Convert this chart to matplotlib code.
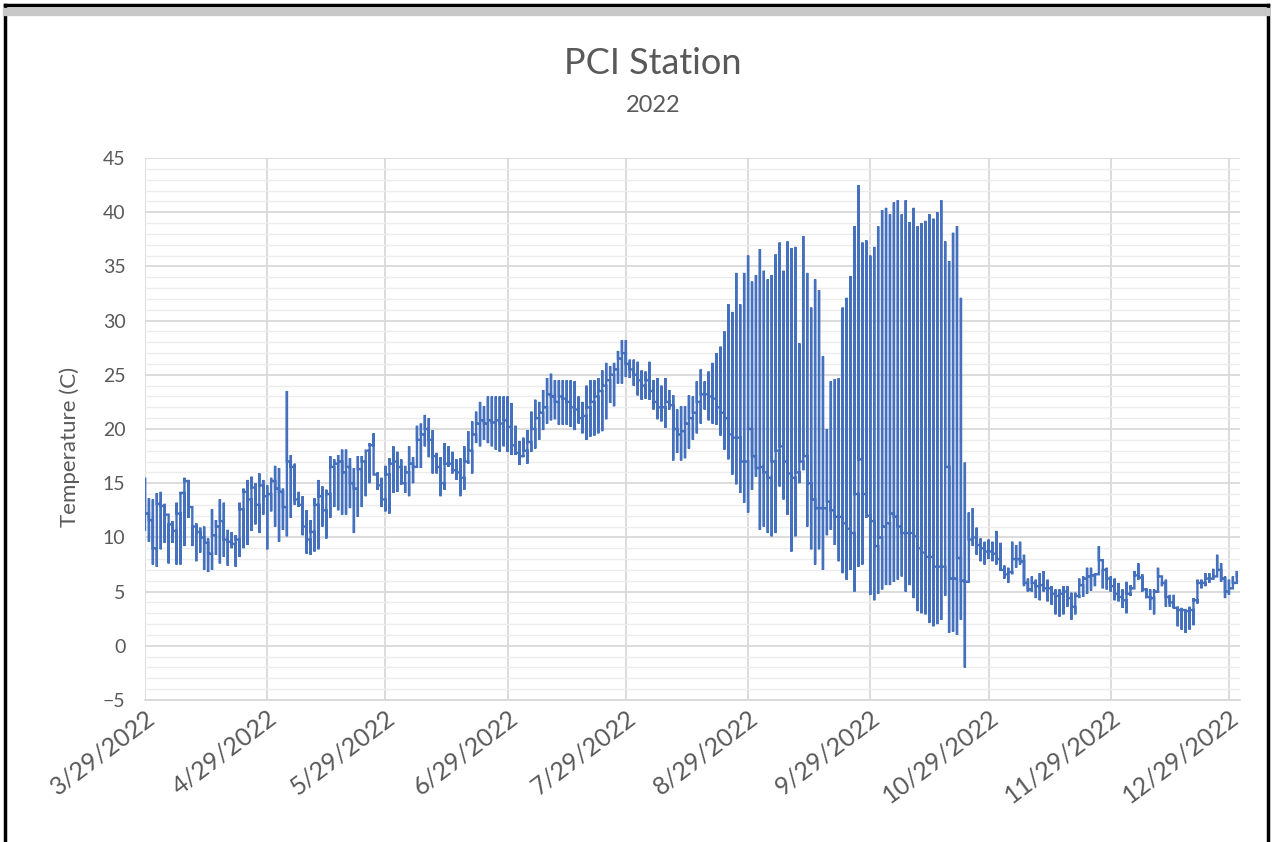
import datetime
import matplotlib
matplotlib.use("Agg")
import matplotlib.pyplot as plt
import matplotlib.dates as mdates
from matplotlib.ticker import MultipleLocator, FuncFormatter
from matplotlib.lines import Line2D

plt.rcParams['font.family'] = ['Lato', 'DejaVu Sans']

# Temperaturas diarias de la estacion PCI, un valor por dia desde el 29/3/2022.
# t_max / t_min: maxima y minima del dia.
# t_noche: valor a medianoche, donde un dia enlaza con el siguiente.

t_max = [15.5, 13.6, 13.5, 14.1, 14.2, 13.1, 12.1, 11.5, 13.2, 14.2,
         15.5, 15.3, 12.8, 11.3, 10.9, 11.0, 9.9, 12.6, 11.6, 13.5,
         13.2, 10.7, 10.5, 10.2, 13.2, 14.5, 15.3, 15.6, 15.0, 15.9,
         15.3, 14.8, 15.5, 16.6, 16.4, 14.5, 23.5, 17.6, 16.8, 14.2,
         13.8, 12.5, 11.6, 13.6, 15.3, 14.7, 14.4, 17.5, 17.2, 17.6,
         18.1, 18.1, 17.3, 16.4, 17.5, 17.5, 17.2, 18.7, 19.6, 16.0,
         15.5, 16.6, 17.3, 18.4, 17.9, 17.2, 16.6, 18.4,
         # junio - julio
         17.4, 20.3, 20.5, 21.3, 21.0, 19.9, 17.8, 17.4, 18.7, 18.4,
         17.9, 17.2, 17.3, 18.4, 19.8, 20.7, 21.6, 22.5, 22.1, 23.0,
         23.0, 23.0, 23.0, 23.0, 23.0, 22.4, 20.3, 18.9, 19.2, 19.9,
         21.6, 22.7, 22.5, 23.6, 24.7, 25.1, 24.5, 24.5, 24.5, 24.5,
         24.5, 24.4, 23.0, 22.5, 24.0, 24.5, 24.5, 24.7, 25.4, 26.1,
         25.8, 26.1, 27.2, 28.2, 28.2, 26.4, 26.4, 26.2, 25.4, 25.3,
         26.2, 24.5, 24.7, 24.0, 24.7, 23.6, 23.1, 21.8, 22.1, 22.1,
         23.1, 23.0, 24.4,
         # agosto - octubre
         25.5, 24.4, 25.3, 26.1, 27.0, 27.6, 29.0, 31.5, 30.8, 34.4,
         31.5, 34.4, 36.0, 33.6, 34.2, 36.6, 34.6, 33.8, 34.2, 36.1,
         37.2, 34.6, 37.3, 36.7, 36.8, 27.9, 37.8, 34.4, 31.2, 33.8,
         32.8, 26.7, 20.0, 24.4, 24.6, 24.7, 31.2, 32.1, 34.1, 38.7,
         42.5, 37.2, 37.4, 36.0, 36.8, 38.7, 40.2, 40.4, 39.8, 40.9,
         41.1, 39.8, 41.1, 39.1, 40.4, 38.7, 39.0, 39.2, 39.8, 39.4,
         40.0, 41.1, 37.3, 35.5, 38.1, 38.7, 32.1, 16.9, 12.3, 12.7,
         # noviembre - diciembre
         10.9, 9.9, 9.6, 9.8, 9.6, 10.6, 9.5, 7.4, 7.2, 9.6,
         9.3, 9.6, 8.4, 6.2, 6.4, 6.1, 6.7, 6.9, 6.1, 5.5,
         5.2, 5.2, 5.5, 5.5, 4.9, 4.9, 6.2, 6.4, 7.2, 7.2,
         6.6, 9.2, 7.9, 7.2, 6.4, 6.2, 5.8, 5.2, 5.9, 5.6,
         6.9, 7.6, 6.6, 5.3, 5.2, 5.2, 7.2, 6.4, 6.1, 4.7,
         4.7, 3.6, 3.5, 3.3, 3.6, 4.4, 6.1, 6.1, 6.7, 6.7,
         7.1, 8.4, 7.6, 6.4, 6.1, 6.4, 6.9]

t_min = [10.7, 9.6, 7.5, 7.3, 8.9, 9.5, 7.6, 9.5, 7.5, 7.5,
         9.2, 11.8, 9.2, 7.8, 8.6, 7.0, 6.8, 7.0, 8.4, 7.6,
         8.2, 7.4, 9.0, 7.3, 8.2, 9.0, 9.3, 10.6, 11.2, 10.4,
         12.1, 8.9, 12.4, 11.0, 9.6, 10.7, 10.1, 11.8, 13.0, 12.8,
         10.2, 8.5, 8.4, 8.7, 8.9, 11.0, 9.9, 11.8, 12.8, 12.5,
         12.1, 12.1, 12.7, 10.4, 11.9, 12.8, 13.8, 15.0, 15.9, 14.4,
         12.8, 12.4, 12.2, 14.1, 14.2, 14.9, 14.1, 13.8,
         # junio - julio
         15.0, 16.4, 16.4, 18.4, 17.4, 15.9, 15.9, 13.8, 14.4, 16.5,
         15.9, 15.3, 13.8, 14.4, 16.8, 15.9, 18.7, 18.4, 19.0, 18.7,
         18.4, 18.1, 17.9, 18.4, 17.9, 17.6, 17.6, 16.7, 17.4, 16.8,
         17.9, 18.2, 19.0, 19.9, 20.5, 20.8, 20.9, 20.4, 20.4, 20.4,
         20.2, 19.9, 20.5, 19.6, 19.0, 19.3, 19.4, 19.6, 19.8, 20.9,
         22.4, 22.1, 24.2, 24.2, 24.8, 24.7, 24.0, 23.1, 22.7, 22.8,
         22.7, 21.8, 20.9, 20.7, 20.1, 21.8, 17.1, 17.8, 17.1, 17.3,
         18.2, 19.0, 19.6,
         # agosto - octubre
         20.5, 21.8, 20.8, 20.5, 20.4, 19.4, 18.1, 17.2, 15.8, 14.9,
         14.1, 13.2, 12.3, 14.4, 15.6, 10.7, 11.0, 10.4, 10.1, 10.4,
         14.7, 13.5, 12.1, 8.7, 10.1, 15.0, 16.2, 11.0, 8.9, 7.5,
         8.9, 7.0, 10.2, 10.7, 9.3, 7.8, 6.7, 6.1, 7.0, 5.0,
         7.3, 7.5, 11.8, 4.7, 4.2, 4.8, 5.2, 5.6, 5.6, 5.9,
         6.1, 6.4, 5.0, 5.6, 4.4, 3.2, 3.0, 2.9, 2.1, 1.8,
         2.0, 2.4, 4.6, 1.2, 1.3, 1.0, 2.4, -2.0, 5.8, 9.2,
         # noviembre - diciembre
         8.4, 7.8, 7.5, 8.0, 7.8, 7.5, 7.0, 6.2, 5.8, 6.6,
         7.2, 7.5, 5.5, 5.0, 5.0, 4.4, 4.2, 5.0, 4.1, 3.8,
         2.9, 2.7, 2.9, 3.6, 2.4, 2.9, 4.4, 4.5, 4.8, 5.1,
         5.5, 6.6, 5.3, 5.2, 5.0, 4.2, 4.1, 3.5, 3.0, 4.6,
         5.3, 6.1, 5.0, 4.4, 3.3, 2.9, 4.9, 5.5, 3.6, 3.6,
         3.5, 1.8, 1.5, 1.2, 1.5, 1.9, 3.9, 5.3, 5.5, 5.8,
         6.1, 6.4, 5.9, 4.4, 4.7, 5.3, 5.9]

t_noche = [12.2, 11.6, 9.0, 13.1, 12.9, 12.1, 11.2, 10.6, 12.2, 14.1,
           15.2, 12.8, 11.0, 10.5, 10.0, 9.5, 8.5, 10.2, 11.0, 11.5,
           9.8, 9.6, 9.4, 9.8, 12.6, 14.2, 13.5, 14.6, 13.0, 14.8,
           13.8, 14.0, 15.2, 14.5, 14.2, 12.8, 17.0, 16.5, 13.5, 13.0,
           11.0, 9.8, 10.5, 13.0, 13.8, 12.5, 14.0, 16.5, 16.8, 17.0,
           16.0, 16.5, 15.0, 14.5, 16.3, 17.0, 18.0, 18.5, 15.8, 14.8,
           13.5, 15.8, 16.8, 17.0, 16.5, 15.0, 16.0, 16.8,
           # junio - julio
           16.5, 19.0, 19.5, 20.0, 19.0, 17.5, 16.5, 15.0, 16.8, 16.8,
           16.2, 16.0, 15.5, 17.0, 18.0, 19.5, 20.5, 20.8, 20.5, 20.8,
           20.6, 20.8, 20.5, 20.8, 20.2, 18.5, 17.8, 17.5, 18.0, 18.8,
           20.0, 21.0, 21.5, 22.0, 23.2, 23.0, 22.5, 23.0, 22.8, 22.5,
           22.0, 21.8, 21.0, 21.2, 22.0, 22.5, 23.0, 23.5, 24.0, 24.5,
           25.0, 25.5, 26.5, 27.0, 26.0, 25.5, 25.0, 24.5, 24.0, 24.5,
           23.5, 22.5, 22.0, 22.0, 22.5, 22.2, 20.0, 19.5, 19.8, 20.5,
           21.0, 21.5, 22.5,
           # agosto - octubre
           23.2, 23.2, 23.0, 22.8, 22.0, 21.5, 21.0, 19.5, 19.2, 19.2,
           17.0, 17.0, 20.0, 17.5, 16.4, 16.5, 16.0, 15.5, 17.0, 18.0,
           18.4, 17.0, 15.9, 15.5, 16.0, 17.0, 17.5, 15.0, 13.5, 12.7,
           12.7, 12.7, 13.3, 12.5, 11.9, 11.9, 11.3, 10.8, 10.4, 14.0,
           17.2, 14.0, 12.0, 11.5, 9.2, 10.0, 11.0, 11.3, 12.2, 11.9,
           11.0, 10.4, 10.4, 10.4, 10.1, 9.0, 8.6, 8.2, 8.2, 7.3,
           7.3, 7.3, 16.5, 6.2, 6.2, 8.1, 6.0, 5.9, 9.8, 10.0,
           # noviembre - diciembre
           9.3, 9.0, 8.7, 8.7, 8.5, 8.0, 7.0, 6.6, 6.8, 8.0,
           8.0, 7.8, 5.8, 5.2, 5.8, 5.5, 5.6, 5.3, 5.3, 4.8,
           4.6, 4.8, 5.0, 4.4, 3.6, 4.6, 5.6, 6.2, 6.4, 6.5,
           6.6, 7.9, 7.0, 6.2, 5.5, 4.8, 4.5, 4.2, 4.8, 5.3,
           6.5, 6.3, 5.2, 4.5, 4.4, 5.0, 6.4, 5.8, 4.5, 4.0,
           3.5, 3.3, 3.3, 3.2, 3.3, 4.2, 5.8, 5.8, 6.2, 6.2,
           6.4, 7.0, 6.2, 5.0, 5.3, 5.8, 6.4]

inicio = datetime.date(2022, 3, 29)
meses_ticks = [3, 4, 5, 6, 7, 8, 9, 10, 11, 12]

titulo = "PCI Station"
subtitulo = "2022"
etiqueta_y = "Temperature (C)"

azul = "#4470bd"
gris_texto = "#595959"

# Cada dia es una linea vertical de la minima a la maxima,
# y se enlaza con el siguiente dia por el valor de medianoche.
dias = [mdates.date2num(inicio + datetime.timedelta(days=i)) for i in range(len(t_max))]
xs = []
ys = []
for i in range(len(dias)):
    if i > 0:
        xs.append(dias[i])
        ys.append(t_noche[i - 1])
    xs += [dias[i], dias[i], dias[i]]
    ys += [t_min[i], t_max[i], t_noche[i]]

fig = plt.figure(figsize=(12.73, 8.42), dpi=100)
ax = fig.add_axes([145 / 1273, 1 - 700 / 842, 1095 / 1273, 542 / 842])

ax.plot(xs, ys, color=azul, linewidth=1.7, solid_joinstyle="miter", zorder=3)

ax.set_ylim(-5, 45)
ax.yaxis.set_major_locator(MultipleLocator(5))
ax.yaxis.set_minor_locator(MultipleLocator(1))

x0 = mdates.date2num(inicio)
ax.set_xlim(x0, x0 + 277.8)
ticks_x = [mdates.date2num(datetime.date(2022, m, 29)) for m in meses_ticks]
ax.set_xticks(ticks_x)
ax.xaxis.set_major_formatter(FuncFormatter(
    lambda v, p: "%d/%d/%d" % (mdates.num2date(v).month, mdates.num2date(v).day, mdates.num2date(v).year)))

ax.grid(which="major", axis="both", color="#d9d9d9", linewidth=1.3, zorder=0)
ax.grid(which="minor", axis="y", color="#ececec", linewidth=1.0, zorder=0)
ax.set_axisbelow(True)

for lado in ["top", "right", "left"]:
    ax.spines[lado].set_visible(False)
ax.spines["bottom"].set_color("#d9d9d9")
ax.spines["bottom"].set_linewidth(1.3)

ax.tick_params(which="both", length=0)
ax.tick_params(axis="y", labelsize=14, labelcolor=gris_texto, pad=14)
ax.tick_params(axis="x", labelsize=18, labelcolor=gris_texto, pad=4)
for lab in ax.get_xticklabels():
    lab.set_rotation(37)
    lab.set_ha("right")
    lab.set_va("top")
    lab.set_rotation_mode("anchor")

fig.text(653 / 1273, 1 - 63 / 842, titulo, ha="center", va="center", fontsize=26, color=gris_texto)
fig.text(653 / 1273, 1 - 105 / 842, subtitulo, ha="center", va="center", fontsize=17, color=gris_texto)
fig.text(70 / 1273, 1 - 447 / 842, etiqueta_y, ha="center", va="center", rotation=90,
         fontsize=16, color=gris_texto)

# marco negro y franja gris de arriba
fig.add_artist(Line2D([5 / 1273, 5 / 1273], [0, 1 - 5 / 842], transform=fig.transFigure, color="black", linewidth=2.5))
fig.add_artist(Line2D([1268 / 1273, 1268 / 1273], [0, 1 - 5 / 842], transform=fig.transFigure, color="black", linewidth=2.5))
fig.add_artist(Line2D([5 / 1273, 1268 / 1273], [1 - 5 / 842, 1 - 5 / 842], transform=fig.transFigure, color="black", linewidth=2.5))
fig.add_artist(Line2D([7 / 1273, 1266 / 1273], [1 - 12 / 842, 1 - 12 / 842], transform=fig.transFigure, color="#c8c8c8", linewidth=6))

fig.savefig("out.png", dpi=100)
